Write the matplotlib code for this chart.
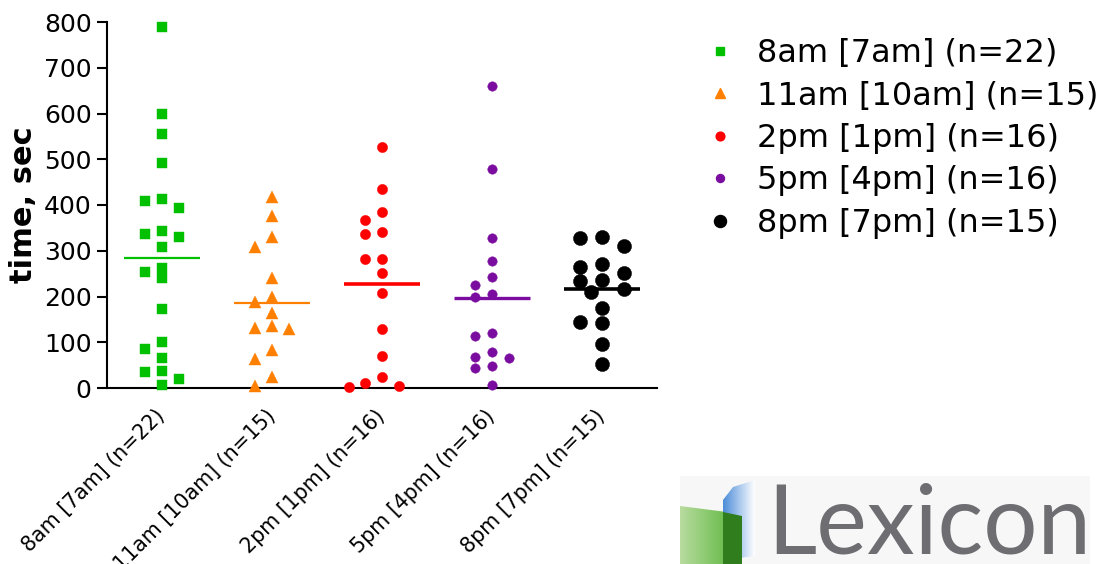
import matplotlib
matplotlib.use("Agg")
import matplotlib.pyplot as plt
import numpy as np
from matplotlib.lines import Line2D
from matplotlib.patches import Polygon, Rectangle

# time-of-day groups (clock time [body time])
GROUPS = ["8am [7am]", "11am [10am]", "2pm [1pm]", "5pm [4pm]", "8pm [7pm]"]

# time, sec
T_8AM = [789, 598, 555, 492, 414, 409, 393, 343, 337, 330, 309,
         263, 253, 240, 172, 101, 86, 65, 38, 36, 20, 6]
T_11AM = [417, 376, 329, 309, 240, 200, 189, 163, 136, 132, 129, 82, 63, 24, 4]
T_2PM = [527, 435, 385, 368, 340, 337, 283, 281, 251, 207, 128, 69, 23, 11, 4, 2]
T_5PM = [661, 479, 327, 278, 242, 225, 206, 198, 121, 113, 79, 68, 66, 47, 44, 7]
T_8PM = [330, 327, 311, 271, 265, 252, 235, 233, 217, 209, 175, 145, 143, 97, 52]

COLORS = ["#00c000", "#ff8000", "#ff0000", "#7a0da0", "#000000"]
MARKERS = ["s", "^", "o", "o", "o"]
MSIZE = [6.8, 8.2, 7.4, 6.8, 10.2]
MEAN_LW = [1.6, 1.6, 2.6, 2.4, 2.6]
GRID_PX = [8.3, 8.3, 8.3, 8.3, 11.0]
MIN_PX = [10.0, 10.5, 10.5, 10.0, 14.0]

W, H = 1105, 564


def swarm_px(vals, y_scale, grid, min_d):
    """Simple beeswarm: offsets in pixels, highest value placed first."""
    vals = np.asarray(vals, float)
    xs = np.zeros_like(vals)
    placed = []
    for i in np.argsort(-vals, kind="stable"):
        y = vals[i] * y_scale
        for k in (0, -2, 2, -1, 1, -3, 3, -4, 4):
            x = k * grid
            if all(np.hypot(x - px, y - py) >= min_d for px, py in placed):
                break
        placed.append((x, y))
        xs[i] = x
    return xs


def fig_xy(x, y):
    return x / W, 1 - y / H


def draw_logo(fig):
    lax = fig.add_axes([680 / W, 0, (1090 - 680) / W, (564 - 476) / H])
    lax.axis("off")
    lax.add_patch(Rectangle((680, 476), 410, 88, color="#f7f7f7", lw=0, zorder=0))
    # green leaf, fading to the left
    green = Polygon([(680, 506), (742, 514), (742, 564), (680, 564)], closed=True,
                    fc="none", ec="none")
    lax.add_patch(green)
    g = np.linspace(0, 1, 64)[None, :]
    im = lax.imshow(np.dstack([0.72 - 0.4 * g, 0.86 - 0.16 * g, 0.62 - 0.42 * g,
                               np.ones_like(g)]),
                    extent=(680, 742, 564, 506), aspect="auto", zorder=1)
    im.set_clip_path(green)
    # blue leaf, fading to the right
    blue = Polygon([(723, 500), (733, 487), (755, 480), (755, 556), (723, 560)],
                   closed=True, fc="none", ec="none")
    lax.add_patch(blue)
    b = np.linspace(0, 1, 64)[None, :]
    im = lax.imshow(np.dstack([0.3 + 0.7 * b, 0.55 + 0.45 * b, 0.85 + 0.15 * b,
                               np.ones_like(b)]),
                    extent=(723, 755, 560, 480), aspect="auto", zorder=2)
    im.set_clip_path(blue)
    dark = Polygon([(723, 512), (742, 516), (742, 564), (723, 564)], closed=True,
                   fc="#2f7d1c", ec="none", zorder=3)
    lax.add_patch(dark)
    lax.text(767, 553, "Lexicon", fontsize=69, family="Lato", color="#6e6d71",
             ha="left", va="baseline", zorder=4)
    lax.set_xlim(680, 1090)
    lax.set_ylim(564, 476)


def main() -> None:
    data = [T_8AM, T_11AM, T_2PM, T_5PM, T_8PM]
    labels = [f"{g} (n={len(d)})" for g, d in zip(GROUPS, data)]

    fig = plt.figure(figsize=(W / 100, H / 100), dpi=100)
    ax = fig.add_axes([107 / W, 1 - 388 / H, (657 - 107) / W, (388 - 22) / H])
    ax.set_xlim(-0.5, 4.5)
    ax.set_ylim(0, 800)

    p0 = ax.transData.transform((0, 0))
    p1 = ax.transData.transform((1, 1))
    x_scale, y_scale = p1 - p0

    for k, vals in enumerate(data):
        off = swarm_px(vals, y_scale, GRID_PX[k], MIN_PX[k]) / x_scale
        ax.plot(k + off, vals, ls="none", marker=MARKERS[k], ms=MSIZE[k],
                color=COLORS[k], mec=COLORS[k], mew=0.3, clip_on=False, zorder=3)
        m = np.mean(vals)
        ax.plot([k - 0.345, k + 0.345], [m, m], color=COLORS[k],
                lw=MEAN_LW[k], solid_capstyle="butt", zorder=4)

    for s in ("top", "right"):
        ax.spines[s].set_visible(False)
    for s in ("left", "bottom"):
        ax.spines[s].set_linewidth(1.5)
    ax.set_yticks(np.arange(0, 801, 100))
    ax.tick_params(axis="y", labelsize=18, length=7, width=1.5, pad=4)
    ax.set_xticks(range(len(GROUPS)))
    ax.set_xticklabels(labels, rotation=45, ha="right", va="center",
                       rotation_mode="anchor", fontsize=14.8)
    ax.tick_params(axis="x", length=0, pad=18)
    ax.set_ylabel("time, sec", fontsize=22, fontweight="bold", labelpad=4)

    handles = [Line2D([], [], ls="none", marker=MARKERS[k], color=COLORS[k],
                      ms=MSIZE[k] * 0.85) for k in range(len(GROUPS))]
    fig.legend(handles, labels, loc="upper left",
               bbox_to_anchor=fig_xy(706, 38), frameon=False, fontsize=23,
               handlelength=0.9, handletextpad=0.7, labelspacing=0.36,
               borderpad=0, borderaxespad=0)

    draw_logo(fig)
    fig.savefig("out.png", dpi=100)
    plt.close(fig)


if __name__ == "__main__":
    main()
